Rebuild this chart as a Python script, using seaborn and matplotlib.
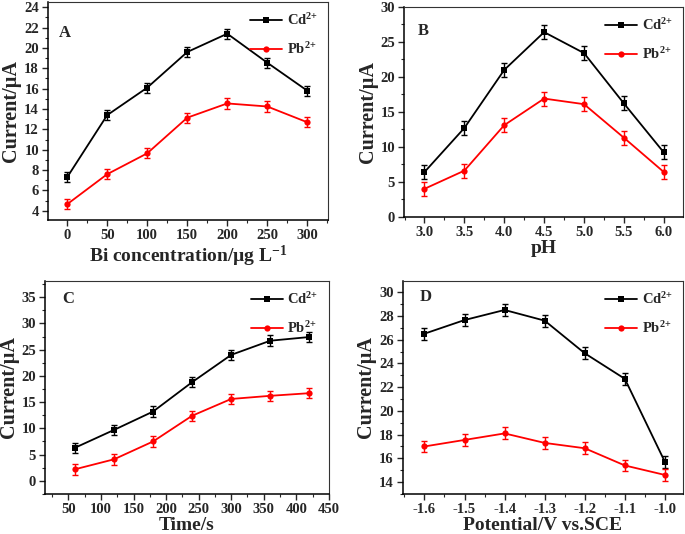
import numpy as np
import pandas as pd
import matplotlib
matplotlib.use("Agg")
import matplotlib.pyplot as plt
from matplotlib.ticker import MultipleLocator, AutoMinorLocator, FormatStrFormatter
import seaborn as sns

# --- Data ---
bi_conc = [0, 50, 100, 150, 200, 250, 300]
bi_cd = [7.3, 13.4, 16.1, 19.6, 21.4, 18.55, 15.8]
bi_pb = [4.65, 7.6, 9.65, 13.15, 14.55, 14.25, 12.7]
bi_err = 0.5

ph = [3.0, 3.5, 4.0, 4.5, 5.0, 5.5, 6.0]
ph_cd = [6.4, 12.7, 21.0, 26.4, 23.4, 16.2, 9.2]
ph_pb = [4.0, 6.6, 13.1, 16.9, 16.1, 11.3, 6.4]
ph_err = 1.0

dep_time = [60, 120, 180, 240, 300, 360, 420]
time_cd = [6.3, 9.7, 13.2, 18.8, 24.0, 26.7, 27.4]
time_pb = [2.2, 4.1, 7.5, 12.4, 15.6, 16.2, 16.7]
time_err = 1.0

potential = [-1.6, -1.5, -1.4, -1.3, -1.2, -1.1, -1.0]
pot_cd = [26.5, 27.65, 28.5, 27.6, 24.85, 22.7, 15.7]
pot_pb = [17.0, 17.55, 18.1, 17.3, 16.85, 15.4, 14.6]
pot_err = 0.5

CD = "Cd$^{2{+}}$"
PB = "Pb$^{2{+}}$"

sns.set_style("ticks")
plt.rcParams.update({
    "font.family": ["Liberation Serif", "DejaVu Serif"],
    "font.weight": "bold",
    "axes.labelweight": "bold",
    "mathtext.fontset": "custom",
    "mathtext.rm": "Liberation Serif:bold",
    "mathtext.bf": "Liberation Serif:bold",
    "mathtext.it": "Liberation Serif:bold:italic",
    "axes.unicode_minus": False,
    "xtick.direction": "out",
    "ytick.direction": "out",
})

fig = plt.figure(figsize=(6.85, 5.34), dpi=100)
positions = [
    [0.070, 0.588, 0.409, 0.408],
    [0.590, 0.594, 0.407, 0.393],
    [0.066, 0.075, 0.414, 0.399],
    [0.588, 0.075, 0.409, 0.399],
]

panels = [
    dict(x=bi_conc, cd=bi_cd, pb=bi_pb, err=bi_err, letter="A",
         xlabel="Bi concentration/µg L$^{\\mathregular{-1}}$", xlim=(-24, 326), ylim=(3.1, 24.5),
         xmaj=50, ymaj=2, xfmt=None, letter_pos=(0.04, 0.86)),
    dict(x=ph, cd=ph_cd, pb=ph_pb, err=ph_err, letter="B",
         xlabel="pH", xlim=(2.745, 6.24), ylim=(0, 30),
         xmaj=0.5, ymaj=5, xfmt="%.1f", letter_pos=(0.05, 0.885)),
    dict(x=dep_time, cd=time_cd, pb=time_pb, err=time_err, letter="C",
         xlabel="Time/s", xlim=(14.3, 450), ylim=(-2.5, 38.1),
         xmaj=50, ymaj=5, xfmt=None, letter_pos=(0.06, 0.915)),
    dict(x=potential, cd=pot_cd, pb=pot_pb, err=pot_err, letter="D",
         xlabel="Potential/V vs.SCE", xlim=(-1.654, -0.955), ylim=(13.0, 30.95),
         xmaj=0.1, ymaj=2, xfmt="%.1f", letter_pos=(0.06, 0.925)),
]

for pos, p in zip(positions, panels):
    ax = fig.add_axes(pos)
    df = pd.DataFrame({
        "x": list(p["x"]) * 2,
        "y": list(p["cd"]) + list(p["pb"]),
        "ion": [CD] * len(p["x"]) + [PB] * len(p["x"]),
    })
    sns.lineplot(data=df, x="x", y="y", hue="ion", style="ion",
                 palette={CD: "black", PB: "red"},
                 markers={CD: "s", PB: "o"}, dashes=False,
                 markersize=4.5, markeredgewidth=0, linewidth=1.3, ax=ax)
    ax.errorbar(p["x"], p["cd"], yerr=p["err"], fmt="none", ecolor="black",
                elinewidth=1.0, capsize=2.5, capthick=1.0)
    ax.errorbar(p["x"], p["pb"], yerr=p["err"], fmt="none", ecolor="red",
                elinewidth=1.0, capsize=2.5, capthick=1.0)

    ax.set_xlim(*p["xlim"])
    ax.set_ylim(*p["ylim"])
    ax.xaxis.set_major_locator(MultipleLocator(p["xmaj"]))
    ax.yaxis.set_major_locator(MultipleLocator(p["ymaj"]))
    ax.xaxis.set_minor_locator(AutoMinorLocator(2))
    ax.yaxis.set_minor_locator(AutoMinorLocator(2))
    if p["xfmt"]:
        ax.xaxis.set_major_formatter(FormatStrFormatter(p["xfmt"]))
    ax.tick_params(which="major", length=4, width=1.0, labelsize=10.5, pad=2.5)
    ax.tick_params(which="minor", length=2.5, width=0.8)
    for lab in ax.get_xticklabels() + ax.get_yticklabels():
        lab.set_fontweight("bold")
    for side in ["left", "bottom"]:
        ax.spines[side].set_linewidth(1.1)
        ax.spines[side].set_color("black")
    for side in ["top", "right"]:
        ax.spines[side].set_linewidth(0.8)
        ax.spines[side].set_color("#333333")

    ax.set_xlabel(p["xlabel"], fontsize=14, fontweight="bold", labelpad=1)
    ax.set_ylabel("Current/µA", fontsize=14.5, fontweight="bold", labelpad=2)
    ax.text(*p["letter_pos"], p["letter"], transform=ax.transAxes,
            fontsize=12, fontweight="bold", va="center", ha="left")

    leg = ax.legend(loc="upper right", frameon=False, fontsize=10.5,
                    handlelength=2.2, handletextpad=0.3, labelspacing=0.9,
                    borderaxespad=0.3, title=None)
    for t in leg.get_texts():
        t.set_fontweight("bold")

plt.savefig("out.png", dpi=100)
